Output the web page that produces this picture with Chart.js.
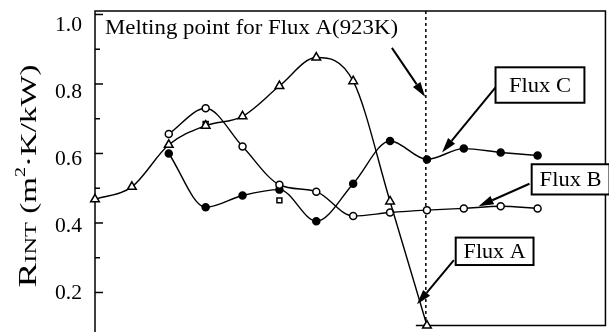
<!DOCTYPE html>
<html>
<head>
<meta charset="utf-8">
<script src="https://cdn.jsdelivr.net/npm/chart.js@4/dist/chart.umd.min.js"></script>
<style>
  html, body { margin: 0; padding: 0; background: #fff; overflow: hidden; }
  #wrap { width: 609px; height: 332px; position: relative; }
</style>
</head>
<body>
<div id="wrap"><canvas id="chart"></canvas></div>
<script>
// positions along the (unlabelled) x axis
const steps = [0, 1, 2, 3, 4, 5, 6, 7, 8, 9, 10, 11, 12];
const fluxA = [0.468, 0.504, 0.625, 0.68, 0.707, 0.794, 0.876, 0.808, 0.462, 0.105, null, null, null];
const fluxB = [null, null, 0.656, 0.73, 0.62, 0.51, 0.49, 0.42, 0.43, 0.437, 0.442, 0.448, 0.442];
const fluxC = [null, null, 0.60, 0.445, 0.479, 0.496, 0.405, 0.513, 0.636, 0.583, 0.614, 0.603, 0.594];
const squares = [null, null, null, 0.685, null, 0.465, null, null, null, null, null, null, null];
const yTicks = [0.2, 0.3, 0.4, 0.5, 0.6, 0.7, 0.8, 0.9, 1.0];
const yLabels = ["0.2", "0.4", "0.6", "0.8", "1.0"];
const meltingStep = 8.97;
const frameEnd = 13.84; // right edge of the plot frame, in x units

const SERIF = '"Liberation Serif", "DejaVu Serif", serif';

function toPoints(arr) {
  return steps.map((x, i) => ({ x: x, y: arr[i] }));
}

function drawArrow(ctx, x1, y1, x2, y2) {
  const ang = Math.atan2(y2 - y1, x2 - x1);
  const len = 15, half = 4.5;
  const bx = x2 - len * Math.cos(ang), by = y2 - len * Math.sin(ang);
  ctx.beginPath();
  ctx.moveTo(x1, y1);
  ctx.lineTo(bx, by);
  ctx.lineWidth = 2;
  ctx.strokeStyle = "#000";
  ctx.stroke();
  ctx.beginPath();
  ctx.moveTo(x2, y2);
  ctx.lineTo(bx + half * Math.sin(ang), by - half * Math.cos(ang));
  ctx.lineTo(bx - half * Math.sin(ang), by + half * Math.cos(ang));
  ctx.closePath();
  ctx.fillStyle = "#000";
  ctx.fill();
}

// draw text stretched to a given width (the scan is a bit wide)
function stretchText(ctx, text, x, y, size, width) {
  ctx.save();
  ctx.font = size + "px " + SERIF;
  const w = ctx.measureText(text).width;
  ctx.translate(x, y);
  ctx.scale(width / w, 1);
  ctx.fillStyle = "#000";
  ctx.textBaseline = "alphabetic";
  ctx.fillText(text, 0, 0);
  ctx.restore();
}

// labelled boxes with arrows, in data units
const callouts = [
  { text: "Flux C", box: [10.86, 13.27, 0.848, 0.746], from: [10.86, 0.79], to: [9.41, 0.603] },
  { text: "Flux B", box: [11.84, 13.95, 0.569, 0.482], from: [11.78, 0.513], to: [10.4, 0.448] },
  { text: "Flux A", box: [9.78, 11.89, 0.358, 0.279], from: [9.73, 0.293], to: [8.73, 0.166] }
];

const decorations = {
  id: "decorations",
  beforeDatasetsDraw(chart) {
    const ctx = chart.ctx;
    const xs = chart.scales.x, ys = chart.scales.y;
    const a = chart.chartArea;
    const right = xs.getPixelForValue(frameEnd);
    ctx.save();
    ctx.strokeStyle = "#000";
    ctx.lineWidth = 1.5;
    // frame
    ctx.beginPath();
    ctx.moveTo(a.left, chart.height);
    ctx.lineTo(a.left, a.top);
    ctx.lineTo(right, a.top);
    ctx.lineTo(right, a.bottom);
    ctx.lineTo(xs.getPixelForValue(8.7), a.bottom);
    ctx.stroke();
    // inward ticks and their labels
    yTicks.forEach(v => {
      const py = ys.getPixelForValue(v);
      const label = v.toFixed(1);
      const major = yLabels.indexOf(label) >= 0;
      ctx.beginPath();
      ctx.moveTo(a.left, py);
      ctx.lineTo(a.left + (major ? 8 : 5), py);
      ctx.stroke();
      if (major) {
        stretchText(ctx, label, a.left - 40, py + 7 + (v - 0.2) * 12, 20, 27);
      }
    });
    // melting point line
    const mx = xs.getPixelForValue(meltingStep);
    ctx.setLineDash([3, 3]);
    ctx.beginPath();
    ctx.moveTo(mx, a.top);
    ctx.lineTo(mx, a.bottom);
    ctx.stroke();
    ctx.setLineDash([]);

    // y title: R_INT (m2.K/kW)
    ctx.translate(27, 176);
    ctx.rotate(-Math.PI / 2);
    const parts = [
      { t: "R", s: 26, dy: 0 },
      { t: "INT", s: 17, dy: 0 },
      { t: " (m", s: 23, dy: 0 },
      { t: "2", s: 14, dy: -11 },
      { t: "\u00B7K/kW)", s: 23, dy: 0 }
    ];
    let total = 0;
    parts.forEach(p => { ctx.font = p.s + "px " + SERIF; p.w = ctx.measureText(p.t).width; total += p.w; });
    ctx.scale(223 / total, 1);
    let cx = -total / 2;
    ctx.fillStyle = "#000";
    parts.forEach(p => {
      ctx.font = p.s + "px " + SERIF;
      ctx.fillText(p.t, cx, 9 + p.dy);
      cx += p.w;
    });
    ctx.restore();
  },
  afterDatasetsDraw(chart) {
    const ctx = chart.ctx;
    const xs = chart.scales.x, ys = chart.scales.y;
    const a = chart.chartArea;
    ctx.save();
    stretchText(ctx, "Melting point for Flux A(923K)", a.left + 10, a.top + 23, 20, 293);
    drawArrow(ctx, xs.getPixelForValue(8.05), ys.getPixelForValue(0.904),
      xs.getPixelForValue(8.95), ys.getPixelForValue(0.763));
    callouts.forEach(c => {
      drawArrow(ctx, xs.getPixelForValue(c.from[0]), ys.getPixelForValue(c.from[1]),
        xs.getPixelForValue(c.to[0]), ys.getPixelForValue(c.to[1]));
      const l = xs.getPixelForValue(c.box[0]), r = xs.getPixelForValue(c.box[1]);
      const t = ys.getPixelForValue(c.box[2]), b = ys.getPixelForValue(c.box[3]);
      ctx.fillStyle = "#fff";
      ctx.fillRect(l, t, r - l, b - t);
      ctx.lineWidth = 2;
      ctx.strokeStyle = "#000";
      ctx.strokeRect(l, t, r - l, b - t);
      stretchText(ctx, c.text, (l + r) / 2 - 31, (t + b) / 2 + 7, 21, 62);
    });
    ctx.restore();
  }
};

function lineSet(label, arr, style, fill, radius) {
  return {
    label: label,
    data: toPoints(arr),
    borderColor: "#000",
    borderWidth: 1.4,
    pointStyle: style,
    pointRadius: radius,
    pointBackgroundColor: fill,
    pointBorderColor: "#000",
    pointBorderWidth: 1.5,
    cubicInterpolationMode: "monotone",
    spanGaps: false,
    clip: false
  };
}

const ctx = document.getElementById("chart").getContext("2d");
new Chart(ctx, {
  type: "line",
  data: {
    datasets: [
      lineSet("Flux A", fluxA, "triangle", "#fff", 5),
      lineSet("Flux B", fluxB, "circle", "#fff", 3.5),
      lineSet("Flux C", fluxC, "circle", "#000", 3.5),
      Object.assign(lineSet("Other", squares, "rect", "#fff", 3.5), { showLine: false })
    ]
  },
  options: {
    responsive: true,
    maintainAspectRatio: false,
    animation: false,
    layout: { padding: { top: 11, right: 2, bottom: 5, left: 0 } },
    plugins: { legend: { display: false }, tooltip: { enabled: false } },
    scales: {
      x: { type: "linear", min: 0, max: 13.76, display: false },
      y: {
        min: 0.105,
        max: 1.01,
        afterBuildTicks: (scale) => { scale.ticks = yTicks.map(v => ({ value: v })); },
        afterFit: (scale) => { scale.width = 95; },
        grid: { drawOnChartArea: false, drawTicks: false },
        border: { display: false },
        ticks: { display: false }
      }
    }
  },
  plugins: [decorations]
});
</script>
</body>
</html>
